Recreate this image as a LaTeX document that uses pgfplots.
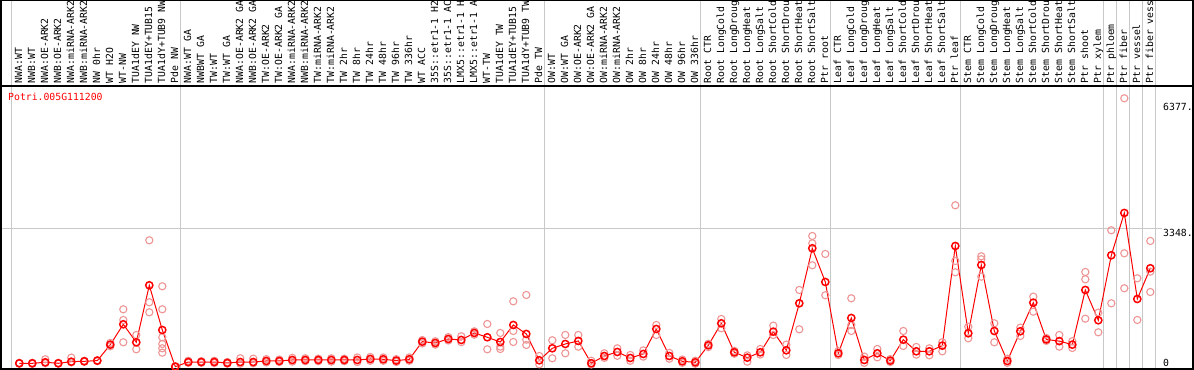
\documentclass[border=0pt]{standalone}
\usepackage{pgfplots}
\usepackage{pgfplotstable}
\usepackage{fontspec}
\pgfplotsset{compat=1.18}
\newfontfamily\labfont{DejaVu Sans Mono}
\definecolor{gridc}{RGB}{200,200,200}
\definecolor{repc}{RGB}{238,150,150}
\definecolor{meanc}{RGB}{255,0,0}

\pgfplotstableread{
x y
0 89
1 89
2 113
3 89
4 128
5 137
6 153
7 539
8 1030
9 596
10 1972
11 893
12 7
13 120
14 120
15 120
16 97
17 120
18 120
19 145
20 145
21 169
22 169
23 169
24 169
25 169
26 169
27 193
28 186
29 153
30 186
31 611
32 579
33 676
34 652
35 821
36 717
37 603
38 1014
39 797
40 161
41 451
42 555
43 628
44 90
45 265
46 362
47 217
48 314
49 917
50 265
51 137
52 113
53 523
54 1054
55 354
56 225
57 354
58 853
59 402
60 1537
61 2865
62 2052
63 330
64 1183
65 169
66 330
67 153
68 659
69 378
70 378
71 515
72 2921
73 813
74 2462
75 869
76 145
77 861
78 1553
79 664
80 624
81 539
82 1859
83 1127
84 2696
85 3718
86 1641
87 2383
}\means

\pgfplotstableread{
x y
0 80
0 100
1 75
1 100
2 186
2 90
3 80
3 100
4 225
4 110
5 150
5 125
6 165
6 140
7 500
7 580
8 1392
8 1135
8 596
9 772
9 427
10 3058
10 1562
10 1320
11 1948
11 1393
11 717
11 555
11 451
11 345
12 20
12 0
13 150
13 100
14 140
14 100
15 150
15 95
16 120
16 80
17 210
17 80
18 200
18 90
19 190
19 110
20 180
20 120
21 220
21 130
22 210
22 140
23 200
23 140
24 210
24 130
25 200
25 140
26 230
26 120
27 240
27 150
28 230
28 150
29 190
29 120
30 230
30 150
31 650
31 570
32 620
32 540
33 720
33 640
34 741
34 600
35 860
35 780
36 1038
36 427
37 821
37 491
37 434
38 1585
38 869
38 603
39 1738
39 659
39 531
40 65
40 265
41 644
41 210
42 772
42 330
43 772
43 490
44 150
44 60
45 330
45 220
46 450
46 270
47 290
47 150
48 400
48 250
49 1014
49 772
50 340
50 200
51 180
51 100
52 150
52 80
53 560
53 480
54 1159
54 934
55 390
55 320
56 128
56 280
57 434
57 300
58 998
58 772
59 539
59 290
60 1859
60 909
61 3162
61 2985
61 2455
62 2728
62 1731
63 380
63 290
64 1658
64 1014
64 869
65 249
65 100
66 434
66 233
67 190
67 120
68 869
68 507
69 483
69 298
70 281
70 450
71 596
71 378
72 3903
72 2559
72 2286
73 973
73 693
74 2672
74 2600
74 2180
75 1054
75 596
76 200
76 100
77 949
77 748
78 1698
78 1335
79 700
79 630
80 772
80 491
81 620
81 459
82 2293
82 2117
82 1166
83 1311
83 837
84 3300
84 1537
85 6486
85 2744
85 1900
86 2141
86 1135
87 3042
87 2301
87 1810
}\reps

\begin{document}
\begin{tikzpicture}
\begin{axis}[
  scale only axis,
  width=1194bp, height=284bp,
  xmin=-1.48462, xmax=90.3615,
  ymin=-72.41, ymax=6782.5,
  axis line style={draw=none},
  major tick length=0pt,
  tick style={draw=none},
  ytick=\empty,
  xtick={0,...,87},
  xticklabel pos=upper,
  xticklabels={NWA:WT,NWB:WT,NWA:OE-ARK2,NWB:OE-ARK2,NWA:miRNA-ARK2,NWB:miRNA-ARK2,NW 0hr,WT H2O,WT-NW,TUA1dEY NW,TUA1dEY+TUB15 ,TUA1dY+TUB9 NW,Pde NW,
  NWA:WT GA,NWBWT GA,TW:WT,TW:WT GA,NWA:OE-ARK2 GA,NWB:OE-ARK2 GA,TW:OE-ARK2,TW:OE-ARK2 GA,NWA:miRNA-ARK2,NWB:miRNA-ARK2,TW:miRNA-ARK2,TW:miRNA-ARK2,TW 2hr,TW 8hr,TW 24hr,TW 48hr,TW 96hr,TW 336hr,WT ACC,35S::etr1-1 H2,35S::etr1-1 AC,LMX5::etr1-1 H,LMX5::etr1-1 A,WT-TW,TUA1dEY TW,TUA1dEY+TUB15 ,TUA1dY+TUB9 TW,Pde TW,
  OW:WT,OW:WT GA,OW:OE-ARK2,OW:OE-ARK2 GA,OW:miRNA-ARK2,OW:miRNA-ARK2,OW 2hr,OW 8hr,OW 24hr,OW 48hr,OW 96hr,OW 336hr,
  Root CTR,Root LongCold,Root LongDroug,Root LongHeat,Root LongSalt,Root ShortCold,Root ShortDrou,Root ShortHeat,Root ShortSalt,Ptr root,
  Leaf CTR,Leaf LongCold,Leaf LongDroug,Leaf LongHeat,Leaf LongSalt,Leaf ShortCold,Leaf ShortDrou,Leaf ShortHeat,Leaf ShortSalt,Ptr leaf,
  Stem CTR,Stem LongCold,Stem LongDroug,Stem LongHeat,Stem LongSalt,Stem ShortCold,Stem ShortDrou,Stem ShortHeat,Stem ShortSalt,Ptr shoot,Ptr xylem,Ptr phloem,Ptr fiber,Ptr vessel,Ptr fiber vess},
  xticklabel style={font=\labfont\fontsize{9.8bp}{11bp}\selectfont, rotate=90, anchor=west, inner xsep=2.6bp, inner ysep=0pt, text height=7.5bp, text depth=2bp},
  clip=false,
]
% vertical group separators (through label area)
\foreach \g in {-0.615,12.385,40.385,52.385,62.385,72.385,83.385,84.385,85.385,86.385,87.385}{
  \edef\tmp{\noexpand\draw[gridc, line width=1.2bp] (axis cs:\g,-48.27) -- (axis cs:\g,8858);}\tmp
}
% horizontal grid line at 3348
\draw[gridc, line width=1.2bp] (axis cs:-1.48,3348) -- (axis cs:87.9,3348);
% frame
\draw[black, line width=1.4bp] (axis cs:-1.4077,-48.27) rectangle (axis cs:90.285,8839);
\draw[black, line width=1.4bp] (axis cs:-1.4077,6782.5) -- (axis cs:90.285,6782.5);

\addplot[only marks, mark=o, mark size=3.6bp, mark options={draw=repc, line width=1.1bp}] table[x=x,y=y] {\reps};
\addplot[meanc, line width=1bp, mark=o, mark size=3.6bp, mark options={draw=meanc, line width=1.5bp}] table[x=x,y=y] {\means};

\node[anchor=west, inner sep=0pt, text=red, font=\labfont\fontsize{9.8bp}{11bp}\selectfont] at (axis cs:-0.869,6517) {Potri.005G111200};
\node[anchor=north west, inner sep=0pt, font=\labfont\fontsize{9.8bp}{11bp}\selectfont] at (axis cs:87.977,6360) {6377.};
\node[anchor=north west, inner sep=0pt, font=\labfont\fontsize{9.8bp}{11bp}\selectfont] at (axis cs:87.977,3330) {3348.};
\node[anchor=north west, inner sep=0pt, font=\labfont\fontsize{9.8bp}{11bp}\selectfont] at (axis cs:87.977,193) {0};

\coordinate (bbSW) at (axis cs:-1.48462,-72.41);
\coordinate (bbNE) at (axis cs:90.3615,8858.3);
\end{axis}
\pgfresetboundingbox
\useasboundingbox (bbSW) rectangle (bbNE);
\end{tikzpicture}
\end{document}
